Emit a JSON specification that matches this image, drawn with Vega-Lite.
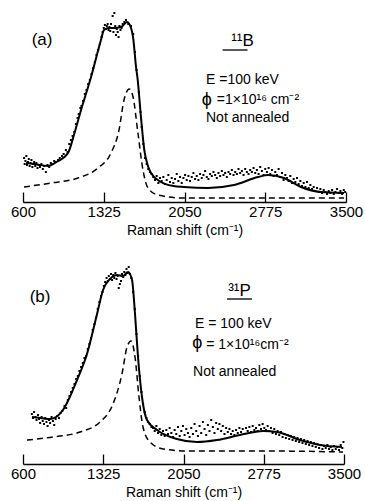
{
  "$schema": "https://vega.github.io/schema/vega-lite/v6.json",
  "padding": {"left": 10, "top": 10, "right": 2, "bottom": 2},
  "background": "white",
  "spacing": 57,
  "bounds": "flush",
  "config": {
    "view": {"stroke": null},
    "font": "Liberation Sans",
    "axis": {
      "tickSize": -10,
      "tickColor": "black",
      "tickWidth": 1.3,
      "domainColor": "black",
      "domainWidth": 1.3,
      "labelFontSize": 15,
      "labelColor": "black",
      "labelPadding": 12,
      "labelFlush": false,
      "labelOverlap": false,
      "titleFontSize": 14,
      "titleFontWeight": "normal",
      "titleColor": "black",
      "titlePadding": 4,
      "grid": false
    },
    "text": {"color": "black", "font": "Liberation Sans"}
  },
  "datasets": {
    "a": [
      {"k":"fit","x":627,"y":39},{"k":"fit","x":700,"y":38},{"k":"fit","x":824,"y":36},{"k":"fit","x":900,"y":40},{"k":"fit","x":1004,"y":49},{"k":"fit","x":1060,"y":68},{"k":"fit","x":1121,"y":92},{"k":"fit","x":1211,"y":125},{"k":"fit","x":1300,"y":162},{"k":"fit","x":1327,"y":172},{"k":"fit","x":1370,"y":174},{"k":"fit","x":1417,"y":174},{"k":"fit","x":1480,"y":175},{"k":"fit","x":1534,"y":180},{"k":"fit","x":1570,"y":174},{"k":"fit","x":1588,"y":165},{"k":"fit","x":1615,"y":135},{"k":"fit","x":1630,"y":122},{"k":"fit","x":1659,"y":85},{"k":"fit","x":1689,"y":52},{"k":"fit","x":1722,"y":36},{"k":"fit","x":1749,"y":29},{"k":"fit","x":1839,"y":20},{"k":"fit","x":1950,"y":16},{"k":"fit","x":2045,"y":15},{"k":"fit","x":2261,"y":14},{"k":"fit","x":2494,"y":17},{"k":"fit","x":2710,"y":25},{"k":"fit","x":2800,"y":27},{"k":"fit","x":2943,"y":24},{"k":"fit","x":3096,"y":15},{"k":"fit","x":3275,"y":10},{"k":"fit","x":3482,"y":9},
      {"k":"comp","x":609,"y":15},{"k":"comp","x":851,"y":19},{"k":"comp","x":1094,"y":24},{"k":"comp","x":1273,"y":34},{"k":"comp","x":1390,"y":49},{"k":"comp","x":1462,"y":72},{"k":"comp","x":1507,"y":102},{"k":"comp","x":1554,"y":113},{"k":"comp","x":1588,"y":105},{"k":"comp","x":1632,"y":69},{"k":"comp","x":1677,"y":32},{"k":"comp","x":1722,"y":14},{"k":"comp","x":1812,"y":7},{"k":"comp","x":2045,"y":4},{"k":"comp","x":3482,"y":4},
      {"k":"obs","x":610,"y":44},{"k":"obs","x":615,"y":38},{"k":"obs","x":622,"y":41},{"k":"obs","x":630,"y":46},{"k":"obs","x":636,"y":37},{"k":"obs","x":645,"y":40},{"k":"obs","x":652,"y":43},{"k":"obs","x":660,"y":36},{"k":"obs","x":668,"y":39},{"k":"obs","x":676,"y":42},{"k":"obs","x":684,"y":35},{"k":"obs","x":692,"y":38},{"k":"obs","x":700,"y":40},{"k":"obs","x":710,"y":36},{"k":"obs","x":720,"y":39},{"k":"obs","x":730,"y":34},{"k":"obs","x":740,"y":37},{"k":"obs","x":752,"y":35},{"k":"obs","x":765,"y":38},{"k":"obs","x":778,"y":33},{"k":"obs","x":790,"y":36},{"k":"obs","x":805,"y":30},{"k":"obs","x":820,"y":37},{"k":"obs","x":835,"y":35},{"k":"obs","x":850,"y":39},{"k":"obs","x":866,"y":38},{"k":"obs","x":880,"y":41},{"k":"obs","x":895,"y":40},
      {"k":"obs","x":915,"y":42},{"k":"obs","x":930,"y":44},{"k":"obs","x":950,"y":46},{"k":"obs","x":965,"y":48},{"k":"obs","x":985,"y":52},{"k":"obs","x":1000,"y":50},{"k":"obs","x":1015,"y":58},{"k":"obs","x":1030,"y":62},{"k":"obs","x":1045,"y":66},{"k":"obs","x":1060,"y":70},{"k":"obs","x":1075,"y":78},{"k":"obs","x":1090,"y":84},{"k":"obs","x":1100,"y":88},{"k":"obs","x":1115,"y":94},{"k":"obs","x":1125,"y":96},{"k":"obs","x":1140,"y":101},{"k":"obs","x":1155,"y":108},{"k":"obs","x":1170,"y":112},{"k":"obs","x":1185,"y":118},{"k":"obs","x":1200,"y":122},{"k":"obs","x":1215,"y":128},{"k":"obs","x":1230,"y":134},{"k":"obs","x":1245,"y":140},{"k":"obs","x":1260,"y":147},{"k":"obs","x":1275,"y":152},{"k":"obs","x":1290,"y":158},{"k":"obs","x":1305,"y":165},{"k":"obs","x":1315,"y":170},
      {"k":"obs","x":1325,"y":174},{"k":"obs","x":1335,"y":177},{"k":"obs","x":1345,"y":173},{"k":"obs","x":1352,"y":176},{"k":"obs","x":1360,"y":178},{"k":"obs","x":1368,"y":172},{"k":"obs","x":1375,"y":175},{"k":"obs","x":1383,"y":171},{"k":"obs","x":1390,"y":178},{"k":"obs","x":1398,"y":174},{"k":"obs","x":1405,"y":186},{"k":"obs","x":1412,"y":170},{"k":"obs","x":1420,"y":189},{"k":"obs","x":1428,"y":176},{"k":"obs","x":1435,"y":167},{"k":"obs","x":1442,"y":173},{"k":"obs","x":1450,"y":170},{"k":"obs","x":1458,"y":165},{"k":"obs","x":1466,"y":176},{"k":"obs","x":1475,"y":172},{"k":"obs","x":1485,"y":174},{"k":"obs","x":1495,"y":178},{"k":"obs","x":1510,"y":180},{"k":"obs","x":1525,"y":182},{"k":"obs","x":1545,"y":178},{"k":"obs","x":1570,"y":176},{"k":"obs","x":1590,"y":168},
      {"k":"obs","x":1605,"y":150},{"k":"obs","x":1620,"y":132},{"k":"obs","x":1640,"y":110},{"k":"obs","x":1655,"y":90},{"k":"obs","x":1665,"y":75},{"k":"obs","x":1680,"y":58},{"k":"obs","x":1695,"y":44},{"k":"obs","x":1710,"y":38},{"k":"obs","x":1725,"y":33},{"k":"obs","x":1740,"y":30},{"k":"obs","x":1755,"y":28},{"k":"obs","x":1770,"y":25},
      {"k":"obs","x":1785,"y":22},{"k":"obs","x":1800,"y":26},{"k":"obs","x":1815,"y":19},{"k":"obs","x":1830,"y":24},{"k":"obs","x":1845,"y":21},{"k":"obs","x":1860,"y":25},{"k":"obs","x":1875,"y":18},{"k":"obs","x":1890,"y":22},{"k":"obs","x":1905,"y":27},{"k":"obs","x":1920,"y":20},{"k":"obs","x":1935,"y":24},{"k":"obs","x":1950,"y":19},{"k":"obs","x":1965,"y":23},{"k":"obs","x":1980,"y":28},{"k":"obs","x":1995,"y":21},{"k":"obs","x":2010,"y":25},{"k":"obs","x":2025,"y":19},{"k":"obs","x":2040,"y":24},{"k":"obs","x":2055,"y":27},{"k":"obs","x":2070,"y":22},{"k":"obs","x":2085,"y":26},{"k":"obs","x":2100,"y":21},{"k":"obs","x":2115,"y":25},{"k":"obs","x":2130,"y":29},{"k":"obs","x":2145,"y":23},{"k":"obs","x":2160,"y":26},{"k":"obs","x":2175,"y":22},{"k":"obs","x":2190,"y":28},{"k":"obs","x":2205,"y":24},{"k":"obs","x":2220,"y":27},{"k":"obs","x":2235,"y":31},{"k":"obs","x":2250,"y":25},{"k":"obs","x":2265,"y":23},{"k":"obs","x":2280,"y":28},{"k":"obs","x":2295,"y":26},{"k":"obs","x":2310,"y":30},{"k":"obs","x":2325,"y":27},{"k":"obs","x":2340,"y":24},{"k":"obs","x":2355,"y":29},{"k":"obs","x":2370,"y":26},{"k":"obs","x":2385,"y":31},{"k":"obs","x":2400,"y":27},{"k":"obs","x":2415,"y":29},{"k":"obs","x":2430,"y":25},{"k":"obs","x":2445,"y":30},{"k":"obs","x":2460,"y":28},{"k":"obs","x":2475,"y":32},{"k":"obs","x":2490,"y":27},{"k":"obs","x":2505,"y":30},{"k":"obs","x":2520,"y":28},{"k":"obs","x":2535,"y":33},{"k":"obs","x":2550,"y":29},{"k":"obs","x":2565,"y":31},{"k":"obs","x":2580,"y":27},{"k":"obs","x":2595,"y":33},{"k":"obs","x":2610,"y":30},{"k":"obs","x":2625,"y":28},{"k":"obs","x":2640,"y":32},{"k":"obs","x":2655,"y":30},{"k":"obs","x":2670,"y":34},{"k":"obs","x":2685,"y":29},{"k":"obs","x":2700,"y":32},{"k":"obs","x":2715,"y":28},{"k":"obs","x":2730,"y":35},{"k":"obs","x":2745,"y":31},{"k":"obs","x":2760,"y":27},{"k":"obs","x":2775,"y":33},{"k":"obs","x":2790,"y":30},{"k":"obs","x":2805,"y":34},{"k":"obs","x":2820,"y":28},{"k":"obs","x":2835,"y":32},{"k":"obs","x":2850,"y":26},{"k":"obs","x":2865,"y":30},{"k":"obs","x":2880,"y":27},{"k":"obs","x":2895,"y":33},{"k":"obs","x":2910,"y":25},{"k":"obs","x":2925,"y":29},{"k":"obs","x":2940,"y":22},{"k":"obs","x":2955,"y":27},{"k":"obs","x":2970,"y":24},{"k":"obs","x":2985,"y":21},{"k":"obs","x":3000,"y":26},{"k":"obs","x":3015,"y":19},{"k":"obs","x":3030,"y":23},{"k":"obs","x":3045,"y":20},{"k":"obs","x":3060,"y":24},{"k":"obs","x":3075,"y":18},{"k":"obs","x":3090,"y":21},{"k":"obs","x":3105,"y":16},{"k":"obs","x":3120,"y":19},{"k":"obs","x":3135,"y":15},{"k":"obs","x":3150,"y":20},{"k":"obs","x":3165,"y":14},{"k":"obs","x":3180,"y":17},{"k":"obs","x":3195,"y":13},{"k":"obs","x":3210,"y":15},{"k":"obs","x":3225,"y":11},{"k":"obs","x":3240,"y":14},{"k":"obs","x":3255,"y":10},{"k":"obs","x":3270,"y":13},{"k":"obs","x":3285,"y":9},{"k":"obs","x":3300,"y":12},{"k":"obs","x":3315,"y":10},{"k":"obs","x":3330,"y":8},{"k":"obs","x":3345,"y":11},{"k":"obs","x":3360,"y":9},{"k":"obs","x":3375,"y":12},{"k":"obs","x":3390,"y":8},{"k":"obs","x":3405,"y":10},{"k":"obs","x":3420,"y":13},{"k":"obs","x":3435,"y":9},{"k":"obs","x":3450,"y":11},{"k":"obs","x":3465,"y":8},{"k":"obs","x":3480,"y":12},{"k":"obs","x":3492,"y":10}
    ],
    "b": [
      {"k":"fit","x":681,"y":47},{"k":"fit","x":760,"y":46},{"k":"fit","x":844,"y":45},{"k":"fit","x":961,"y":54},{"k":"fit","x":1088,"y":84},{"k":"fit","x":1178,"y":110},{"k":"fit","x":1269,"y":150},{"k":"fit","x":1323,"y":174},{"k":"fit","x":1386,"y":185},{"k":"fit","x":1449,"y":189},{"k":"fit","x":1503,"y":188},{"k":"fit","x":1549,"y":192},{"k":"fit","x":1585,"y":184},{"k":"fit","x":1612,"y":150},{"k":"fit","x":1639,"y":107},{"k":"fit","x":1675,"y":67},{"k":"fit","x":1720,"y":44},{"k":"fit","x":1811,"y":34},{"k":"fit","x":1991,"y":25},{"k":"fit","x":2172,"y":22},{"k":"fit","x":2353,"y":24},{"k":"fit","x":2560,"y":29},{"k":"fit","x":2768,"y":33},{"k":"fit","x":2895,"y":32},{"k":"fit","x":3102,"y":24},{"k":"fit","x":3283,"y":19},{"k":"fit","x":3482,"y":17},
      {"k":"comp","x":636,"y":24},{"k":"comp","x":871,"y":27},{"k":"comp","x":1115,"y":32},{"k":"comp","x":1296,"y":42},{"k":"comp","x":1413,"y":60},{"k":"comp","x":1494,"y":90},{"k":"comp","x":1540,"y":117},{"k":"comp","x":1576,"y":123},{"k":"comp","x":1612,"y":107},{"k":"comp","x":1648,"y":67},{"k":"comp","x":1684,"y":37},{"k":"comp","x":1747,"y":22},{"k":"comp","x":1865,"y":15},{"k":"comp","x":2082,"y":13},{"k":"comp","x":2804,"y":13},{"k":"comp","x":3491,"y":12},
      {"k":"obs","x":680,"y":50},{"k":"obs","x":690,"y":46},{"k":"obs","x":700,"y":52},{"k":"obs","x":712,"y":47},{"k":"obs","x":722,"y":44},{"k":"obs","x":735,"y":49},{"k":"obs","x":745,"y":45},{"k":"obs","x":755,"y":41},{"k":"obs","x":768,"y":47},{"k":"obs","x":778,"y":43},{"k":"obs","x":790,"y":40},{"k":"obs","x":800,"y":46},{"k":"obs","x":812,"y":42},{"k":"obs","x":822,"y":38},{"k":"obs","x":835,"y":44},{"k":"obs","x":845,"y":41},{"k":"obs","x":858,"y":47},{"k":"obs","x":870,"y":43},{"k":"obs","x":882,"y":39},{"k":"obs","x":895,"y":45},{"k":"obs","x":910,"y":48},{"k":"obs","x":925,"y":46},{"k":"obs","x":940,"y":51},{"k":"obs","x":955,"y":53},
      {"k":"obs","x":975,"y":58},{"k":"obs","x":990,"y":56},{"k":"obs","x":1005,"y":64},{"k":"obs","x":1020,"y":68},{"k":"obs","x":1035,"y":72},{"k":"obs","x":1050,"y":76},{"k":"obs","x":1065,"y":80},{"k":"obs","x":1080,"y":85},{"k":"obs","x":1095,"y":88},{"k":"obs","x":1110,"y":93},{"k":"obs","x":1125,"y":97},{"k":"obs","x":1140,"y":101},{"k":"obs","x":1155,"y":106},{"k":"obs","x":1170,"y":108},{"k":"obs","x":1185,"y":115},{"k":"obs","x":1200,"y":120},{"k":"obs","x":1215,"y":126},{"k":"obs","x":1230,"y":134},{"k":"obs","x":1245,"y":140},{"k":"obs","x":1260,"y":146},{"k":"obs","x":1275,"y":155},{"k":"obs","x":1290,"y":162},{"k":"obs","x":1305,"y":168},{"k":"obs","x":1318,"y":172},
      {"k":"obs","x":1330,"y":178},{"k":"obs","x":1342,"y":182},{"k":"obs","x":1355,"y":186},{"k":"obs","x":1365,"y":183},{"k":"obs","x":1375,"y":188},{"k":"obs","x":1385,"y":185},{"k":"obs","x":1395,"y":190},{"k":"obs","x":1405,"y":184},{"k":"obs","x":1415,"y":189},{"k":"obs","x":1425,"y":186},{"k":"obs","x":1435,"y":191},{"k":"obs","x":1445,"y":185},{"k":"obs","x":1455,"y":188},{"k":"obs","x":1465,"y":176},{"k":"obs","x":1475,"y":180},{"k":"obs","x":1485,"y":183},{"k":"obs","x":1495,"y":190},{"k":"obs","x":1505,"y":187},{"k":"obs","x":1515,"y":192},{"k":"obs","x":1525,"y":189},{"k":"obs","x":1535,"y":195},{"k":"obs","x":1545,"y":191},{"k":"obs","x":1555,"y":197},{"k":"obs","x":1565,"y":190},{"k":"obs","x":1580,"y":186},
      {"k":"obs","x":1595,"y":172},{"k":"obs","x":1610,"y":155},{"k":"obs","x":1625,"y":130},{"k":"obs","x":1640,"y":108},{"k":"obs","x":1655,"y":88},{"k":"obs","x":1670,"y":72},{"k":"obs","x":1685,"y":60},{"k":"obs","x":1700,"y":52},{"k":"obs","x":1715,"y":46},{"k":"obs","x":1730,"y":42},{"k":"obs","x":1745,"y":40},{"k":"obs","x":1760,"y":37},
      {"k":"obs","x":1775,"y":36},{"k":"obs","x":1790,"y":33},{"k":"obs","x":1805,"y":38},{"k":"obs","x":1820,"y":31},{"k":"obs","x":1835,"y":35},{"k":"obs","x":1850,"y":29},{"k":"obs","x":1865,"y":33},{"k":"obs","x":1880,"y":28},{"k":"obs","x":1895,"y":34},{"k":"obs","x":1910,"y":30},{"k":"obs","x":1925,"y":36},{"k":"obs","x":1940,"y":31},{"k":"obs","x":1955,"y":27},{"k":"obs","x":1970,"y":34},{"k":"obs","x":1985,"y":30},{"k":"obs","x":2000,"y":37},{"k":"obs","x":2015,"y":28},{"k":"obs","x":2030,"y":33},{"k":"obs","x":2045,"y":38},{"k":"obs","x":2060,"y":29},{"k":"obs","x":2075,"y":35},{"k":"obs","x":2090,"y":31},{"k":"obs","x":2105,"y":27},{"k":"obs","x":2120,"y":36},{"k":"obs","x":2135,"y":30},{"k":"obs","x":2150,"y":40},{"k":"obs","x":2165,"y":33},{"k":"obs","x":2180,"y":28},{"k":"obs","x":2195,"y":38},{"k":"obs","x":2210,"y":31},{"k":"obs","x":2225,"y":42},{"k":"obs","x":2240,"y":35},{"k":"obs","x":2255,"y":29},{"k":"obs","x":2270,"y":39},{"k":"obs","x":2285,"y":33},{"k":"obs","x":2300,"y":44},{"k":"obs","x":2315,"y":37},{"k":"obs","x":2330,"y":31},{"k":"obs","x":2345,"y":41},{"k":"obs","x":2360,"y":35},{"k":"obs","x":2375,"y":40},{"k":"obs","x":2390,"y":33},{"k":"obs","x":2405,"y":38},{"k":"obs","x":2420,"y":30},{"k":"obs","x":2435,"y":36},{"k":"obs","x":2450,"y":32},{"k":"obs","x":2465,"y":35},{"k":"obs","x":2480,"y":30},{"k":"obs","x":2495,"y":33},{"k":"obs","x":2510,"y":29},{"k":"obs","x":2525,"y":34},{"k":"obs","x":2540,"y":31},{"k":"obs","x":2555,"y":36},{"k":"obs","x":2570,"y":32},{"k":"obs","x":2585,"y":35},{"k":"obs","x":2600,"y":30},{"k":"obs","x":2615,"y":36},{"k":"obs","x":2630,"y":33},{"k":"obs","x":2645,"y":37},{"k":"obs","x":2660,"y":32},{"k":"obs","x":2675,"y":38},{"k":"obs","x":2690,"y":34},{"k":"obs","x":2705,"y":36},{"k":"obs","x":2720,"y":33},{"k":"obs","x":2735,"y":39},{"k":"obs","x":2750,"y":35},{"k":"obs","x":2765,"y":40},{"k":"obs","x":2780,"y":36},{"k":"obs","x":2795,"y":34},{"k":"obs","x":2810,"y":38},{"k":"obs","x":2825,"y":33},{"k":"obs","x":2840,"y":36},{"k":"obs","x":2855,"y":31},{"k":"obs","x":2870,"y":35},{"k":"obs","x":2885,"y":30},{"k":"obs","x":2900,"y":33},{"k":"obs","x":2915,"y":29},{"k":"obs","x":2930,"y":32},{"k":"obs","x":2945,"y":27},{"k":"obs","x":2960,"y":30},{"k":"obs","x":2975,"y":26},{"k":"obs","x":2990,"y":29},{"k":"obs","x":3005,"y":25},{"k":"obs","x":3020,"y":28},{"k":"obs","x":3035,"y":24},{"k":"obs","x":3050,"y":27},{"k":"obs","x":3065,"y":23},{"k":"obs","x":3080,"y":26},{"k":"obs","x":3095,"y":22},{"k":"obs","x":3110,"y":25},{"k":"obs","x":3125,"y":21},{"k":"obs","x":3140,"y":24},{"k":"obs","x":3155,"y":20},{"k":"obs","x":3170,"y":23},{"k":"obs","x":3185,"y":19},{"k":"obs","x":3200,"y":22},{"k":"obs","x":3215,"y":18},{"k":"obs","x":3230,"y":21},{"k":"obs","x":3245,"y":17},{"k":"obs","x":3260,"y":20},{"k":"obs","x":3275,"y":16},{"k":"obs","x":3290,"y":19},{"k":"obs","x":3305,"y":15},{"k":"obs","x":3320,"y":18},{"k":"obs","x":3335,"y":16},{"k":"obs","x":3350,"y":19},{"k":"obs","x":3365,"y":15},{"k":"obs","x":3380,"y":17},{"k":"obs","x":3395,"y":14},{"k":"obs","x":3410,"y":18},{"k":"obs","x":3425,"y":15},{"k":"obs","x":3440,"y":17},{"k":"obs","x":3455,"y":14},{"k":"obs","x":3470,"y":19},{"k":"obs","x":3485,"y":16},{"k":"obs","x":3495,"y":22}
    ]
  },
  "vconcat": [
    {
      "width": 323,
      "height": 192,
      "layer": [
        {"data": {"name": "a"}, "transform": [{"filter": "datum.k === 'comp'"}], "mark": {"type": "line", "interpolate": "monotone", "color": "black", "strokeWidth": 1.5, "strokeDash": [6, 4]},
         "encoding": {
           "x": {"field": "x", "type": "quantitative", "scale": {"domain": [600, 3500], "nice": false, "zero": false}, "axis": {"title": "Raman shift (cm⁻¹)", "values": [600, 1325, 2050, 2775, 3500], "format": "d"}},
           "y": {"field": "y", "type": "quantitative", "scale": {"domain": [0, 192], "nice": false}, "axis": null}}},
        {"data": {"name": "a"}, "transform": [{"filter": "datum.k === 'fit'"}], "mark": {"type": "line", "interpolate": "monotone", "color": "black", "strokeWidth": 2},
         "encoding": {"x": {"field": "x", "type": "quantitative"}, "y": {"field": "y", "type": "quantitative"}}},
        {"data": {"name": "a"}, "transform": [{"filter": "datum.k === 'obs'"}], "mark": {"type": "square", "color": "black", "filled": true, "opacity": 1, "size": 4},
         "encoding": {"x": {"field": "x", "type": "quantitative"}, "y": {"field": "y", "type": "quantitative"}}},
        {"data": {"values": [{"n": 1}]}, "mark": {"type": "text", "fontSize": 17, "align": "center", "baseline": "middle", "color": "black"}, "encoding": {"text": {"value": "(a)"}, "x": {"datum": 771}, "y": {"datum": 162}}},
        {"data": {"values": [{"n": 1}]}, "mark": {"type": "text", "fontSize": 17, "align": "center", "baseline": "middle", "color": "black"}, "encoding": {"text": {"value": "¹¹B"}, "x": {"datum": 2571}, "y": {"datum": 161}}},
        {"data": {"values": [{"n": 1}]}, "mark": {"type": "rule", "color": "black", "strokeWidth": 1.3}, "encoding": {"x": {"datum": 2392}, "x2": {"datum": 2616}, "y": {"datum": 152}}},
        {"data": {"values": [{"n": 1}]}, "mark": {"type": "text", "fontSize": 14, "align": "left", "baseline": "middle", "color": "black"}, "encoding": {"text": {"value": "E =100 keV"}, "x": {"datum": 2243}, "y": {"datum": 122}}},
        {"data": {"values": [{"n": 1}]}, "mark": {"type": "text", "fontSize": 18, "align": "left", "baseline": "middle", "color": "black"}, "encoding": {"text": {"value": "ϕ"}, "x": {"datum": 2205}, "y": {"datum": 102}}},
        {"data": {"values": [{"n": 1}]}, "mark": {"type": "text", "fontSize": 14, "align": "left", "baseline": "middle", "color": "black"}, "encoding": {"text": {"value": "=1×10¹⁶ cm⁻²"}, "x": {"datum": 2340}, "y": {"datum": 102}}},
        {"data": {"values": [{"n": 1}]}, "mark": {"type": "text", "fontSize": 14, "align": "left", "baseline": "middle", "color": "black"}, "encoding": {"text": {"value": "Not annealed"}, "x": {"datum": 2243}, "y": {"datum": 84}}}
      ]
    },
    {
      "width": 321,
      "height": 205,
      "layer": [
        {"data": {"name": "b"}, "transform": [{"filter": "datum.k === 'comp'"}], "mark": {"type": "line", "interpolate": "monotone", "color": "black", "strokeWidth": 1.5, "strokeDash": [6, 4]},
         "encoding": {
           "x": {"field": "x", "type": "quantitative", "scale": {"domain": [600, 3500], "nice": false, "zero": false}, "axis": {"title": "Raman shift (cm⁻¹)", "values": [600, 1325, 2050, 2775, 3500], "format": "d"}},
           "y": {"field": "y", "type": "quantitative", "scale": {"domain": [0, 205], "nice": false}, "axis": null}}},
        {"data": {"name": "b"}, "transform": [{"filter": "datum.k === 'fit'"}], "mark": {"type": "line", "interpolate": "monotone", "color": "black", "strokeWidth": 2},
         "encoding": {"x": {"field": "x", "type": "quantitative"}, "y": {"field": "y", "type": "quantitative"}}},
        {"data": {"name": "b"}, "transform": [{"filter": "datum.k === 'obs'"}], "mark": {"type": "square", "color": "black", "filled": true, "opacity": 1, "size": 4},
         "encoding": {"x": {"field": "x", "type": "quantitative"}, "y": {"field": "y", "type": "quantitative"}}},
        {"data": {"values": [{"n": 1}]}, "mark": {"type": "text", "fontSize": 17, "align": "center", "baseline": "middle", "color": "black"}, "encoding": {"text": {"value": "(b)"}, "x": {"datum": 754}, "y": {"datum": 167}}},
        {"data": {"values": [{"n": 1}]}, "mark": {"type": "text", "fontSize": 17, "align": "center", "baseline": "middle", "color": "black"}, "encoding": {"text": {"value": "³¹P"}, "x": {"datum": 2556}, "y": {"datum": 173}}},
        {"data": {"values": [{"n": 1}]}, "mark": {"type": "rule", "color": "black", "strokeWidth": 1.3}, "encoding": {"x": {"datum": 2443}, "x2": {"datum": 2669}, "y": {"datum": 165}}},
        {"data": {"values": [{"n": 1}]}, "mark": {"type": "text", "fontSize": 14, "align": "left", "baseline": "middle", "color": "black"}, "encoding": {"text": {"value": "E = 100 keV"}, "x": {"datum": 2154}, "y": {"datum": 140}}},
        {"data": {"values": [{"n": 1}]}, "mark": {"type": "text", "fontSize": 18, "align": "left", "baseline": "middle", "color": "black"}, "encoding": {"text": {"value": "ϕ"}, "x": {"datum": 2130}, "y": {"datum": 121}}},
        {"data": {"values": [{"n": 1}]}, "mark": {"type": "text", "fontSize": 14, "align": "left", "baseline": "middle", "color": "black"}, "encoding": {"text": {"value": "= 1×10¹⁶cm⁻²"}, "x": {"datum": 2255}, "y": {"datum": 119}}},
        {"data": {"values": [{"n": 1}]}, "mark": {"type": "text", "fontSize": 14, "align": "left", "baseline": "middle", "color": "black"}, "encoding": {"text": {"value": "Not annealed"}, "x": {"datum": 2136}, "y": {"datum": 92}}}
      ]
    }
  ]
}
